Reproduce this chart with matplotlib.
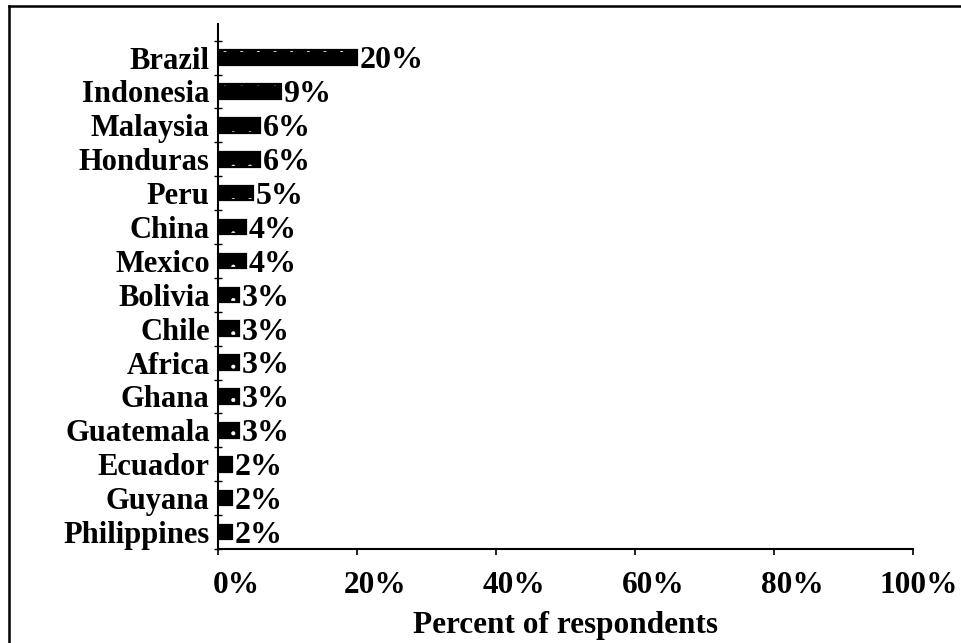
import matplotlib
matplotlib.use("Agg")
import matplotlib.pyplot as plt
import matplotlib.transforms as mtransforms
from matplotlib.lines import Line2D
import numpy as np

countries = ["Brazil", "Indonesia", "Malaysia", "Honduras", "Peru", "China", "Mexico",
             "Bolivia", "Chile", "Africa", "Ghana", "Guatemala", "Ecuador", "Guyana",
             "Philippines"]
percents = [20, 9, 6, 6, 5, 4, 4, 3, 3, 3, 3, 3, 2, 2, 2]
xticks = [0, 20, 40, 60, 80, 100]

plt.rcParams["font.family"] = ["Liberation Serif", "DejaVu Serif"]
plt.rcParams["font.weight"] = "bold"
plt.rcParams["hatch.linewidth"] = 0.5

fig = plt.figure(figsize=(9.62, 6.43), dpi=100)
ax = fig.add_axes([218 / 962, 1 - 549 / 643, (913 - 218) / 962, (549 - 24) / 643])

n = len(countries)
ypos = np.arange(n)[::-1]
# black bars with small white dots, then a black outline so dots don't nick the edges
ax.barh(ypos, percents, height=0.43, color="black", edgecolor="white",
        linewidth=0, hatch=".")
ax.barh(ypos, percents, height=0.43, facecolor="none", edgecolor="black",
        linewidth=1.6)

for y, v in zip(ypos, percents):
    ax.text(v + 0.4, y - 0.1, f"{v}%", va="center", ha="left",
            fontsize=23, fontweight="bold")

ax.set_xlim(0, 100)
ax.set_ylim(-0.5, n - 0.5 + 0.49)
ax.set_xticks(xticks)
ax.set_xticklabels([f"{t}%" for t in xticks], fontsize=22.5, fontweight="bold")
ax.set_yticks(ypos)
ax.set_yticklabels(countries, fontsize=22, fontweight="bold")
ax.set_yticks(np.arange(n + 1) - 0.5, minor=True)
ax.tick_params(axis="y", which="major", length=0, pad=6)
ax.tick_params(axis="y", which="minor", direction="inout", length=6, width=1)
ax.tick_params(axis="x", direction="out", length=4, width=1.2, pad=12)
ax.set_xlabel("Percent of respondents", fontsize=22.5, fontweight="bold", labelpad=8)

# x tick labels sit a little right of their ticks; the last one is pulled in
labels = ax.get_xticklabels()
for i, lab in enumerate(labels):
    dx = 6 if i == len(labels) - 1 else 18
    lab.set_transform(lab.get_transform() +
                      mtransforms.ScaledTranslation(dx / 100, 0, fig.dpi_scale_trans))

for s in ["top", "right"]:
    ax.spines[s].set_visible(False)
for s in ["left", "bottom"]:
    ax.spines[s].set_linewidth(1.5)

# outer frame (left and top edges)
fig.add_artist(Line2D([8.5 / 962, 8.5 / 962], [0, 1 - 6 / 643], color="black", lw=1.8,
                      transform=fig.transFigure))
fig.add_artist(Line2D([8.5 / 962, 1], [1 - 6 / 643, 1 - 6 / 643], color="black", lw=1.8,
                      transform=fig.transFigure))

fig.savefig("out.png", dpi=100)
